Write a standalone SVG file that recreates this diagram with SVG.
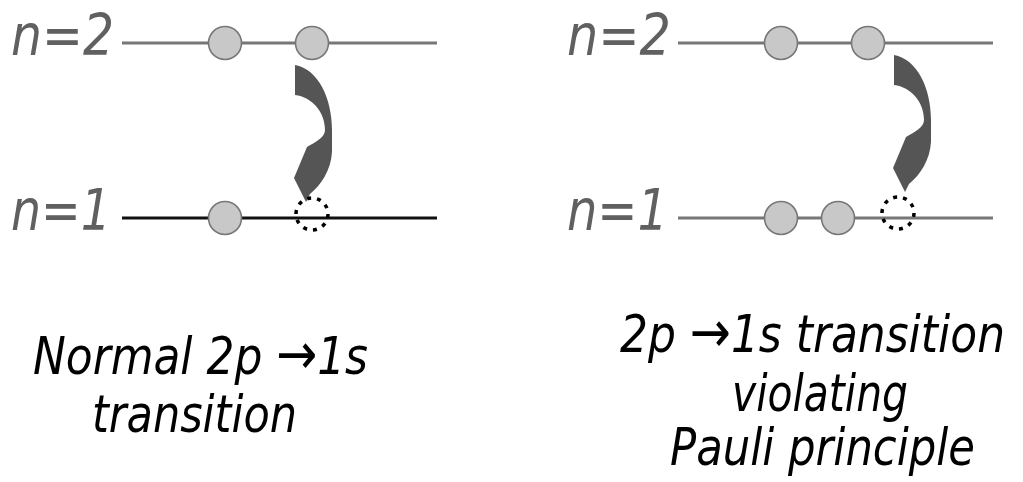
<svg xmlns="http://www.w3.org/2000/svg" width="1023" height="482" viewBox="0 0 1023 482">
<defs>
<style>
.lvl{fill:#606060;font-family:"DejaVu Sans","Verdana",sans-serif;font-style:italic;font-size:57px}
.cap{fill:#000;font-family:"DejaVu Sans Condensed","DejaVu Sans",sans-serif;font-style:italic;font-size:52px}
.ar{font-size:58px;font-style:normal}
.line2{stroke:#777;stroke-width:3}
.line1{stroke:#111;stroke-width:3}
.line1g{stroke:#777;stroke-width:3}
.e{fill:#c8c8c8;stroke:#777;stroke-width:1.6}
.hole{fill:none;stroke:#000;stroke-width:3.5;stroke-dasharray:4 6}
.arr{fill:#555}
</style>
<path id="curl" d="M295,65 C318,69 332,98 332,130 L332,152 C331,170 321,185 310,194 L306,202 L294,178 L307,147 C316,142 325,137 325,130 C325,112 312,97 295,95 Z"/>
</defs>
<g id="connectors">
<line class="line2" x1="122" y1="43" x2="437" y2="43"/>
<line class="line1" x1="122" y1="218" x2="437" y2="218"/>
<line class="line2" x1="678" y1="43" x2="993" y2="43"/>
<line class="line1g" x1="678" y1="218" x2="993" y2="218"/>
<use href="#curl" class="arr"/>
<use href="#curl" class="arr" transform="translate(599,-10)"/>
</g>
<g id="left-n2-label"><text class="lvl" x="11" y="55" textLength="103" lengthAdjust="spacingAndGlyphs">n=2</text></g>
<g id="left-n1-label"><text class="lvl" x="11" y="230" textLength="100" lengthAdjust="spacingAndGlyphs">n=1</text></g>
<g id="right-n2-label"><text class="lvl" x="567" y="55" textLength="104" lengthAdjust="spacingAndGlyphs">n=2</text></g>
<g id="right-n1-label"><text class="lvl" x="567" y="230" textLength="101" lengthAdjust="spacingAndGlyphs">n=1</text></g>
<g id="left-electrons">
<circle class="e" cx="225" cy="43" r="16.5"/>
<circle class="e" cx="312" cy="43" r="16.5"/>
<circle class="e" cx="225" cy="218" r="16.5"/>
<circle class="hole" cx="312" cy="214" r="16"/>
</g>
<g id="right-electrons">
<circle class="e" cx="781" cy="43" r="16.5"/>
<circle class="e" cx="868" cy="43" r="16.5"/>
<circle class="e" cx="781" cy="218" r="16.5"/>
<circle class="e" cx="838" cy="218" r="16.5"/>
<circle class="hole" cx="898" cy="213" r="16"/>
</g>
<g id="left-caption">
<text class="cap" x="33" y="374" textLength="335" lengthAdjust="spacingAndGlyphs">Normal 2p <tspan class="ar">→</tspan>1s</text>
<text class="cap" x="92" y="432" textLength="205" lengthAdjust="spacingAndGlyphs">transition</text>
</g>
<g id="right-caption">
<text class="cap" x="620" y="352" textLength="385" lengthAdjust="spacingAndGlyphs">2p <tspan class="ar">→</tspan>1s transition</text>
<text class="cap" x="732" y="411" textLength="176" lengthAdjust="spacingAndGlyphs">violating</text>
<text class="cap" x="670" y="465" textLength="305" lengthAdjust="spacingAndGlyphs">Pauli principle</text>
</g>
</svg>
